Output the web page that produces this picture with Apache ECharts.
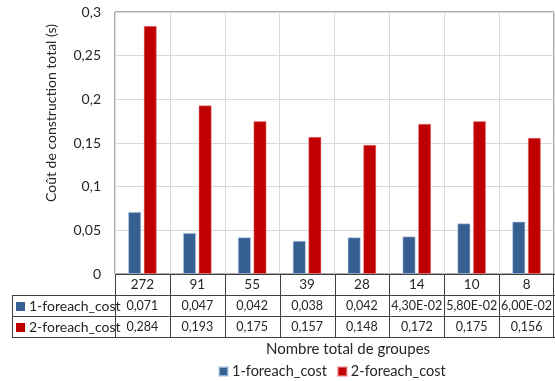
<!DOCTYPE html>
<html><head><meta charset="utf-8">
<script src="https://cdn.jsdelivr.net/npm/echarts@6/dist/echarts.min.js"></script>
<style>html,body{margin:0;padding:0;background:#fff}#c{width:555px;height:381px}</style>
</head><body><div id="c"></div>
<script>
const categories = ['272', '91', '55', '39', '28', '14', '10', '8'];
const seriesNames = ['1-foreach_cost', '2-foreach_cost'];
const cost1 = [0.071, 0.047, 0.042, 0.038, 0.042, 0.043, 0.058, 0.060];
const cost2 = [0.284, 0.193, 0.175, 0.157, 0.148, 0.172, 0.175, 0.156];
const cost1Labels = ['0,071', '0,047', '0,042', '0,038', '0,042', '4,30E-02', '5,80E-02', '6,00E-02'];
const cost2Labels = ['0,284', '0,193', '0,175', '0,157', '0,148', '0,172', '0,175', '0,156'];
const yAxisTitle = 'Coût de construction total (s)';
const xAxisTitle = 'Nombre total de groupes';

const colors = ['#376092', '#c00000'];
const FONT = 'Lato';
const TXT = '#262626';
const LINE = '#404040';

const chart = echarts.init(document.getElementById('c'), null, {renderer: 'canvas'});
chart.setOption({
  animation: false,
  textStyle: {fontFamily: FONT},
  grid: {left: 115, right: 1, top: 12, bottom: 107, show: true, borderColor: '#595959', borderWidth: 1, backgroundColor: 'transparent'},
  legend: {
    data: seriesNames, left: 213, top: 359, icon: 'rect', itemWidth: 9, itemHeight: 9, itemGap: 10,
    textStyle: {fontFamily: FONT, fontSize: 14.5, color: TXT, padding: [0, 0, 0, -1]}
  },
  xAxis: {
    type: 'category', data: categories,
    axisLine: {show: false}, axisTick: {show: false},
    splitLine: {show: true, lineStyle: {color: '#d9d9d9', width: 1}},
    axisLabel: {fontFamily: FONT, fontSize: 13.5, color: TXT, margin: 4}
  },
  yAxis: {
    type: 'value', min: 0, max: 0.3, interval: 0.05,
    axisLine: {show: false}, axisTick: {show: false},
    splitLine: {lineStyle: {color: '#d9d9d9', width: 1}},
    axisLabel: {fontFamily: FONT, fontSize: 14, color: TXT, margin: 14,
      formatter: v => String(+v.toFixed(2)).replace('.', ',')}
  },
  series: [
    {name: seriesNames[0], type: 'bar', data: cost1, barWidth: 13, barGap: '20%',
      itemStyle: {color: colors[0], borderColor: 'rgba(190,210,235,0.7)', borderWidth: 0.8}},
    {name: seriesNames[1], type: 'bar', data: cost2, barWidth: 13,
      itemStyle: {color: colors[1], borderColor: 'rgba(240,150,150,0.6)', borderWidth: 0.8}}
  ]
});

// Data table below the plot, positioned from the axis scales
const x0 = chart.convertToPixel({xAxisIndex: 0}, 0);
const x1 = chart.convertToPixel({xAxisIndex: 0}, 1);
const band = x1 - x0;
const left = Math.round(x0 - band / 2);
const n = categories.length;
const right = Math.round(left + band * n);
const zeroY = Math.round(chart.convertToPixel({yAxisIndex: 0}, 0));
const rowH = 21;
const tableLeft = 12;
const els = [];
function hline(y, xa, xb) {
  els.push({type: 'line', shape: {x1: xa, y1: y + 0.5, x2: xb, y2: y + 0.5}, style: {stroke: LINE, lineWidth: 1}, z: 10});
}
function vline(x, ya, yb) {
  els.push({type: 'line', shape: {x1: x + 0.5, y1: ya, x2: x + 0.5, y2: yb}, style: {stroke: LINE, lineWidth: 1}, z: 10});
}
function text(x, y, t, size, align, extra) {
  return Object.assign({type: 'text', x: x, y: y, z: 10,
    style: {text: t, fontFamily: FONT, fontSize: size, fill: TXT, align: align, verticalAlign: 'middle'}}, extra || {});
}
hline(zeroY, left, right + 1);
hline(zeroY + rowH, tableLeft, right + 1);
hline(zeroY + 2 * rowH, tableLeft, right + 1);
hline(zeroY + 3 * rowH, tableLeft, right + 1);
vline(tableLeft, zeroY + rowH, zeroY + 3 * rowH + 1);
for (let i = 0; i <= n; i++) {
  vline(Math.round(left + band * i) - (i === n ? 1 : 0), zeroY, zeroY + 3 * rowH + 1);
}
const rows = [cost1Labels, cost2Labels];
rows.forEach((labels, r) => {
  const cy = zeroY + rowH * (r + 1) + rowH / 2 + 0.5;
  els.push({type: 'rect', shape: {x: 16, y: Math.round(cy - 4.5), width: 9, height: 9}, style: {fill: colors[r]}, z: 10});
  els.push(text(29, cy, seriesNames[r], 14, 'left'));
  labels.forEach((t, i) => {
    const cx = chart.convertToPixel({xAxisIndex: 0}, i);
    els.push(text(cx, cy, t, 12.5, 'center'));
  });
});
els.push(text(348, 349, xAxisTitle, 15, 'center'));
els.push(text(51, 113, yAxisTitle, 14, 'center', {rotation: Math.PI / 2}));
chart.setOption({graphic: {elements: els}});
</script>
</body></html>
